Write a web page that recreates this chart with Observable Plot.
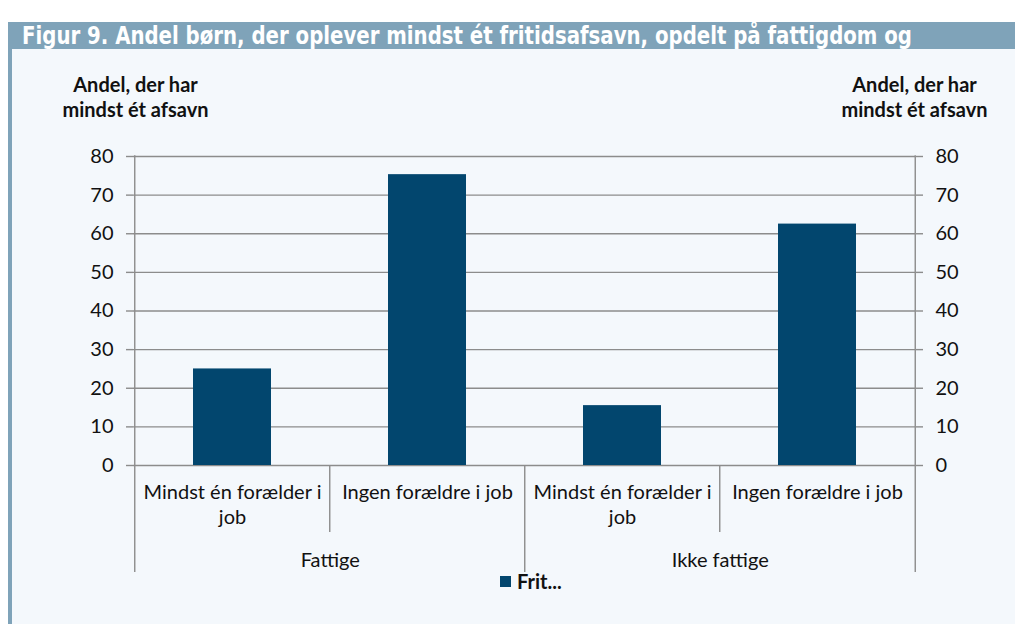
<!DOCTYPE html>
<html>
<head>
<meta charset="utf-8">
<script src="https://cdn.jsdelivr.net/npm/d3@7"></script>
<script src="https://cdn.jsdelivr.net/npm/@observablehq/plot@0.6"></script>
<style>
  html, body { margin: 0; padding: 0; background: #ffffff; }
  #page { position: relative; width: 1015px; height: 624px; overflow: hidden; background: #ffffff; font-family: Lato, sans-serif; }
  #strip { position: absolute; left: 8px; top: 22px; width: 4px; height: 602px; background: #7fa3b9; }
  #panel { position: absolute; left: 12px; top: 49px; right: 0; bottom: 0; background: #f4f8fc; }
  #titlebar { position: absolute; left: 8px; top: 22px; right: 0; height: 27px; background: #7fa3b9; overflow: hidden; }
  #title { position: absolute; left: 14px; top: 0px; line-height: 27px; white-space: nowrap; color: #ffffff; font-weight: bold; font-size: 25px;
           font-family: "Liberation Sans Narrow", "DejaVu Sans Condensed", "DejaVu Sans", sans-serif; font-stretch: condensed; transform-origin: 0 50%; }
  #chart { position: absolute; left: 0; top: 49px; }
  #legend { position: absolute; left: 500px; top: 569px; display: flex; align-items: center; font-family: Lato, sans-serif; font-weight: bold; font-size: 20px; color: #111; }
  #legend .sw { width: 11px; height: 11px; margin-right: 6px; }
</style>
</head>
<body>
<div id="page">
  <div id="panel"></div>
  <div id="strip"></div>
  <div id="titlebar"><span id="title"></span></div>
  <div id="chart"></div>
  <div id="legend"><span class="sw"></span><span class="lt"></span></div>
</div>
<script>
// ---- data ----
const titleText = "Figur 9. Andel børn, der oplever mindst ét fritidsafsavn, opdelt på fattigdom og";
const categories = ["Mindst én forælder i job", "Ingen forældre i job", "Mindst én forælder i job", "Ingen forældre i job"];
const groups = ["Fattige", "Fattige", "Ikke fattige", "Ikke fattige"];
const values = [25.0, 75.3, 15.5, 62.5];
const tickLabels = ["Mindst én forælder i\njob", "Ingen forældre i job", "Mindst én forælder i\njob", "Ingen forældre i job"];
const groupNames = ["Fattige", "Ikke fattige"];
const yTicks = [0, 10, 20, 30, 40, 50, 60, 70, 80];
const yDomain = [0, 80];
const yLabel = "Andel, der har\nmindst ét afsavn";
const seriesName = "Frit...";

// ---- style / layout ----
const barColor = "#02466e";
const gridColor = "#8c8c8c";
const textColor = "#111111";
const FS = 20;
const W = 1015, H = 575;
const ML = 133, MR = 100, MT = 107, MB = 159;
const plotH = H - MT - MB;
const step = (W - ML - MR) / categories.length;

const keys = categories.map((c, i) => groups[i] + " | " + c);
const data = keys.map((k, i) => ({key: k, value: values[i], label: tickLabels[i]}));
const groupKeys = groupNames.map(g => keys[groups.indexOf(g)]);
const longLeft = groupKeys;
const longRight = [keys[keys.length - 1]];
const shortLeft = keys.filter(k => !groupKeys.includes(k));

document.getElementById("title").textContent = titleText;
document.querySelector("#legend .sw").style.background = barColor;
document.querySelector("#legend .lt").textContent = seriesName;

const marks = [
  Plot.ruleY(yTicks, {y: d => d, stroke: gridColor, strokeWidth: 1.4}),
  Plot.barY(data, {x: "key", y: "value", fill: barColor}),
  Plot.ruleX(longLeft, {x: d => d, dx: -step / 2, insetTop: plotH, insetBottom: -107, stroke: gridColor, strokeWidth: 1.4}),
  Plot.ruleX(longRight, {x: d => d, dx: step / 2, insetTop: -0.7, insetBottom: -107, stroke: gridColor, strokeWidth: 1.4}),
  Plot.ruleX(longLeft.slice(0, 1), {x: d => d, dx: -step / 2, insetTop: -0.7, insetBottom: 0, stroke: gridColor, strokeWidth: 1.4}),
  Plot.ruleX(shortLeft, {x: d => d, dx: -step / 2, insetTop: plotH, insetBottom: -67, stroke: gridColor, strokeWidth: 1.4}),
  Plot.text(data, {x: "key", text: "label", frameAnchor: "bottom", lineAnchor: "top", dy: 16, fontSize: FS, lineHeight: 1.25, fill: textColor}),
  Plot.text(groupNames, {x: groupKeys, text: d => d, dx: step / 2, frameAnchor: "bottom", lineAnchor: "middle", dy: 95, fontSize: FS, fill: textColor}),
  Plot.text([yLabel], {text: d => d, frameAnchor: "top-left", textAnchor: "middle", dx: 2, dy: -40, lineAnchor: "bottom", fontSize: FS, fontWeight: "bold", lineHeight: 1.25, fill: textColor}),
  Plot.text([yLabel], {text: d => d, frameAnchor: "top-right", textAnchor: "middle", dx: -1, dy: -40, lineAnchor: "bottom", fontSize: FS, fontWeight: "bold", lineHeight: 1.25, fill: textColor}),
  Plot.axisY({anchor: "left", ticks: yTicks, tickSize: 7, tickPadding: 13, fontSize: FS, label: null, stroke: gridColor, strokeWidth: 1.4, fill: textColor}),
  Plot.axisY({anchor: "right", ticks: yTicks, tickSize: 7, tickPadding: 13, fontSize: FS, label: null, stroke: gridColor, strokeWidth: 1.4, fill: textColor})
];

const chart = Plot.plot({
  width: W, height: H,
  marginLeft: ML, marginRight: MR, marginTop: MT, marginBottom: MB,
  style: {fontFamily: "Lato, sans-serif", fontSize: FS + "px", background: "transparent", color: textColor, overflow: "visible"},
  x: {type: "band", domain: keys, paddingInner: 0.6, paddingOuter: 0.3, axis: null},
  y: {domain: yDomain, axis: null},
  marks
});
document.getElementById("chart").appendChild(chart);

// fit the condensed title to its reference width
const t = document.getElementById("title");
const tw = t.getBoundingClientRect().width;
t.style.transform = `scaleX(${890 / tw})`;
</script>
</body>
</html>
